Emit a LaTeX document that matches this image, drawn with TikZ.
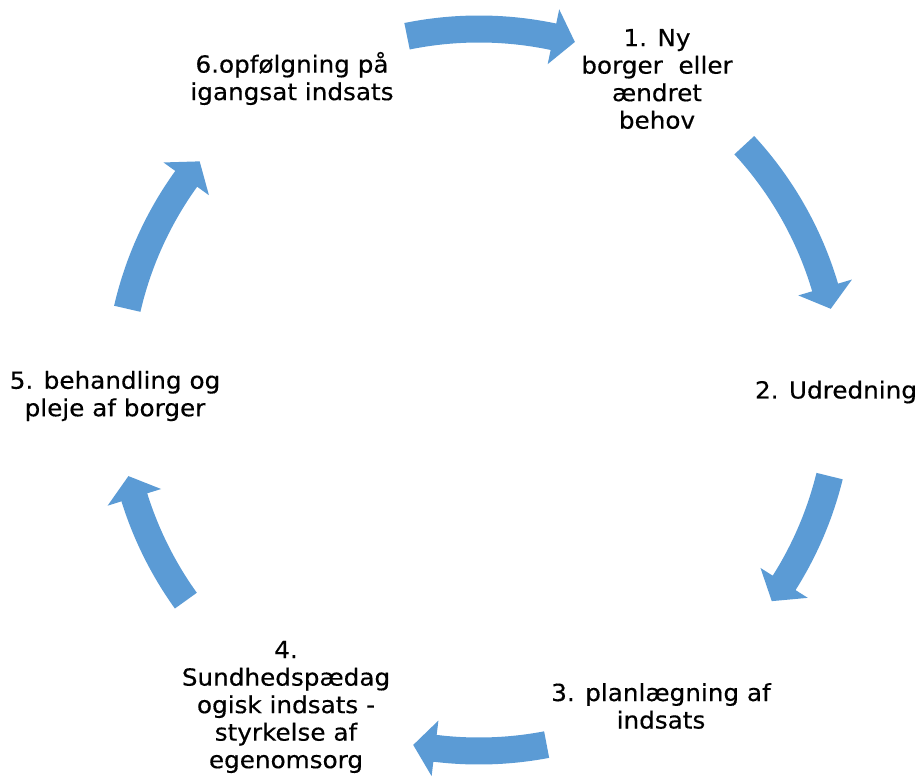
\documentclass[tikz,border=0pt]{standalone}
\usepackage{fontspec}
\newfontfamily\lblfont[FakeStretch=1.05,FakeBold=0.4]{DejaVu Sans}
\definecolor{arrowblue}{RGB}{91,155,213}
\tikzset{lbl/.style={font=\lblfont\fontsize{23.5}{27.5}\selectfont, align=center, inner sep=0pt, text=black}}
% tail angle, head-base angle, tip angle
\newcommand\cycarrow[3]{%
  \fill[arrowblue] (#1:374.5pt) arc[start angle=#1, end angle=#2, radius=374.5pt]
    -- (#2:389pt) -- (#3:361pt) -- (#2:333pt) -- (#2:347.5pt)
    arc[start angle=#2, end angle=#1, radius=347.5pt] -- cycle;}
\begin{document}
\begin{tikzpicture}[x=1pt,y=1pt]
\useasboundingbox (0,0) rectangle (923,776);
\begin{scope}[shift={(479,386)}]
  \cycarrow{101.5}{78.1}{74.6}
  \cycarrow{42.7}{16.5}{13}
  \cycarrow{-13.8}{-32.3}{-35.8}
  \cycarrow{-79.2}{-97}{-100.5}
  \cycarrow{-144.3}{-162.7}{-166.2}
  \cycarrow{167}{144.2}{140.7}
\end{scope}
\node[lbl] (s1) at (657,697) {1. Ny\\borger\ \ eller\\ændret\\behov};
\node[lbl] (s2) at (836,384) {2. Udredning};
\node[lbl] (s3) at (661,70) {3. planlægning af\\indsats};
\node[lbl] (s4) at (286,69) {4.\\Sundhedspædag\\ogisk indsats -\\styrkelse af\\egenomsorg};
\node[lbl] (s5) at (115,380) {5. behandling og\\pleje af borger};
\node[lbl] (s6) at (292,697.5) {6.opfølgning på\\igangsat indsats};
\end{tikzpicture}
\end{document}
